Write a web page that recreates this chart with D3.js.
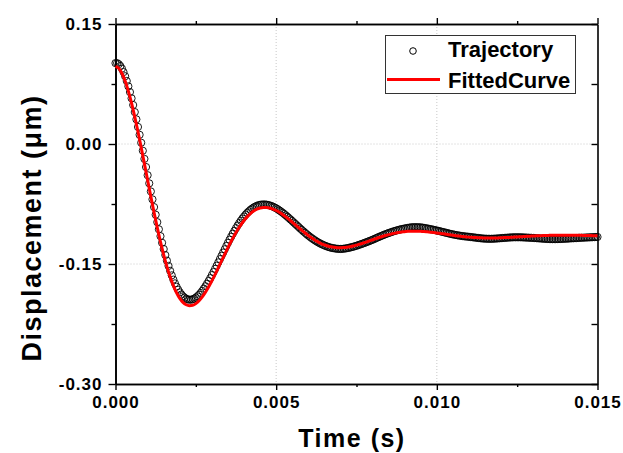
<!DOCTYPE html>
<html>
<head>
<meta charset="utf-8">
<script src="https://cdn.jsdelivr.net/npm/d3@7"></script>
<style>
  body { margin: 0; background: #fff; }
  text { font-family: Arial, "Liberation Sans", sans-serif; font-weight: bold; }
</style>
</head>
<body>
<svg id="chart" width="623" height="453"></svg>
<script>
// measured trajectory, sampled every 0.05 ms
const trajectoryStep = 0.00005;
const trajectory = [
  0.1011, 0.1011, 0.0998, 0.0975, 0.0942, 0.0899, 0.0847, 0.0788, 0.0721, 0.0649,
  0.0571, 0.0487, 0.0399, 0.0308, 0.0213, 0.0115, 0.0016, -0.0084, -0.0186, -0.0288,
  -0.0390, -0.0492, -0.0593, -0.0692, -0.0789, -0.0884, -0.0977, -0.1066, -0.1152, -0.1235,
  -0.1313, -0.1388, -0.1458, -0.1524, -0.1585, -0.1642, -0.1695, -0.1742, -0.1784, -0.1822,
  -0.1854, -0.1881, -0.1904, -0.1921, -0.1934, -0.1943, -0.1946, -0.1946, -0.1941, -0.1933,
  -0.1920, -0.1904, -0.1884, -0.1862, -0.1836, -0.1808, -0.1778, -0.1746, -0.1712, -0.1677,
  -0.1639, -0.1601, -0.1561, -0.1521, -0.1480, -0.1439, -0.1398, -0.1357, -0.1316, -0.1275,
  -0.1235, -0.1196, -0.1158, -0.1121, -0.1086, -0.1052, -0.1019, -0.0988, -0.0959, -0.0931,
  -0.0906, -0.0882, -0.0860, -0.0841, -0.0823, -0.0807, -0.0794, -0.0782, -0.0773, -0.0765,
  -0.0760, -0.0757, -0.0756, -0.0756, -0.0758, -0.0762, -0.0768, -0.0775, -0.0783, -0.0793,
  -0.0804, -0.0816, -0.0830, -0.0844, -0.0859, -0.0875, -0.0892, -0.0909, -0.0927, -0.0945,
  -0.0963, -0.0982, -0.1001, -0.1019, -0.1038, -0.1057, -0.1075, -0.1093, -0.1110, -0.1128,
  -0.1144, -0.1160, -0.1175, -0.1189, -0.1203, -0.1216, -0.1228, -0.1239, -0.1250, -0.1259,
  -0.1268, -0.1276, -0.1284, -0.1290, -0.1296, -0.1300, -0.1304, -0.1307, -0.1310, -0.1311,
  -0.1312, -0.1311, -0.1309, -0.1306, -0.1303, -0.1299, -0.1294, -0.1289, -0.1284, -0.1278,
  -0.1272, -0.1265, -0.1258, -0.1251, -0.1244, -0.1236, -0.1229, -0.1221, -0.1213, -0.1205,
  -0.1197, -0.1188, -0.1179, -0.1170, -0.1161, -0.1153, -0.1144, -0.1136, -0.1128, -0.1120,
  -0.1113, -0.1106, -0.1099, -0.1092, -0.1086, -0.1080, -0.1075, -0.1069, -0.1064, -0.1060,
  -0.1056, -0.1052, -0.1048, -0.1045, -0.1042, -0.1040, -0.1040, -0.1040, -0.1040, -0.1041,
  -0.1042, -0.1045, -0.1048, -0.1052, -0.1056, -0.1059, -0.1064, -0.1068, -0.1072, -0.1077,
  -0.1082, -0.1086, -0.1091, -0.1096, -0.1101, -0.1106, -0.1111, -0.1116, -0.1121, -0.1126,
  -0.1130,
  -0.1134, -0.1138, -0.1142, -0.1145, -0.1148, -0.1151, -0.1154, -0.1156, -0.1158, -0.1160,
  -0.1163, -0.1165, -0.1168, -0.1170, -0.1173, -0.1175, -0.1178, -0.1180, -0.1182, -0.1183,
  -0.1184, -0.1185, -0.1185, -0.1185, -0.1184, -0.1183, -0.1182, -0.1180, -0.1179, -0.1177,
  -0.1175, -0.1174, -0.1172, -0.1171, -0.1169, -0.1168, -0.1167, -0.1166, -0.1166, -0.1166,
  -0.1166, -0.1166, -0.1167, -0.1168, -0.1169, -0.1170, -0.1171, -0.1172, -0.1173, -0.1174,
  -0.1176, -0.1177, -0.1179, -0.1180, -0.1182, -0.1183, -0.1185, -0.1186, -0.1187, -0.1188,
  -0.1189, -0.1189, -0.1189, -0.1189, -0.1188, -0.1188, -0.1187, -0.1186, -0.1185, -0.1184,
  -0.1183, -0.1182, -0.1180, -0.1179, -0.1178, -0.1177, -0.1176, -0.1174, -0.1173, -0.1172,
  -0.1171, -0.1170, -0.1169, -0.1168, -0.1167, -0.1166, -0.1165, -0.1164, -0.1163, -0.1162
];

// fitted curve, every 0.1 ms
const fitStep = 0.0001;
const fittedCurve = [
  0.0971, 0.0946, 0.0884, 0.0787, 0.0661, 0.0511, 0.0339, 0.0153, -0.0045, -0.0248,
  -0.0454, -0.0658, -0.0856, -0.1045, -0.1223, -0.1385, -0.1532, -0.1660, -0.1770, -0.1859,
  -0.1929, -0.1979, -0.2009, -0.2021, -0.2016, -0.1995, -0.1959, -0.1911, -0.1852, -0.1784,
  -0.1709, -0.1629, -0.1546, -0.1462, -0.1378, -0.1295, -0.1216, -0.1142, -0.1073, -0.1011,
  -0.0956, -0.0908, -0.0869, -0.0838, -0.0815, -0.0800, -0.0793, -0.0793, -0.0800, -0.0813,
  -0.0831, -0.0854, -0.0881, -0.0911, -0.0943, -0.0977, -0.1011, -0.1046, -0.1080, -0.1113,
  -0.1144, -0.1173, -0.1200, -0.1223, -0.1244, -0.1261, -0.1275, -0.1285, -0.1292, -0.1296,
  -0.1297, -0.1295, -0.1291, -0.1284, -0.1275, -0.1264, -0.1252, -0.1239, -0.1226, -0.1211,
  -0.1197, -0.1183, -0.1169, -0.1156, -0.1144, -0.1133, -0.1123, -0.1114, -0.1107, -0.1100,
  -0.1096, -0.1092, -0.1090, -0.1090, -0.1090, -0.1092, -0.1094, -0.1098, -0.1102, -0.1106,
  -0.1112, -0.1117, -0.1123, -0.1129, -0.1135, -0.1140, -0.1146, -0.1151, -0.1156, -0.1160,
  -0.1164, -0.1167, -0.1170, -0.1172, -0.1173, -0.1174, -0.1175, -0.1175, -0.1175, -0.1174,
  -0.1172, -0.1170, -0.1169, -0.1166, -0.1164, -0.1162, -0.1159, -0.1157, -0.1154, -0.1152,
  -0.1150, -0.1148, -0.1146, -0.1145, -0.1143, -0.1142, -0.1141, -0.1140, -0.1140, -0.1140,
  -0.1140, -0.1140, -0.1140, -0.1141, -0.1141, -0.1142, -0.1143, -0.1144, -0.1145, -0.1146,
  -0.1147
];

const xTicks = [0, 0.005, 0.01, 0.015];
const xMinorTicks = [0.0025, 0.0075, 0.0125];
const yTicks = [0.15, 0, -0.15, -0.3];
const yMinorTicks = [0.075, -0.075, -0.225];
const legendLabels = ["Trajectory", "FittedCurve"];

const svg = d3.select("#chart");
const plotLeft = 115.5, plotRight = 597.5, plotTop = 24, plotBottom = 384;

const x = d3.scaleLinear().domain([0, 0.015]).range([plotLeft, plotRight]);
const y = d3.scaleLinear().domain([-0.3, 0.15]).range([plotBottom, plotTop]);

// plain hyphen for negatives, like the original export
const fmt = (spec) => (d) => d3.format(spec)(d).replace("\u2212", "-");

// dotted grid at the major ticks inside the frame
svg.append("g")
  .selectAll("line")
  .data(xTicks.slice(1, -1))
  .enter()
  .append("line")
  .attr("x1", (d) => x(d)).attr("x2", (d) => x(d))
  .attr("y1", plotTop).attr("y2", plotBottom)
  .style("stroke", "#c8c8c8")
  .style("stroke-dasharray", "1,2");

svg.append("g")
  .selectAll("line")
  .data(yTicks.slice(1, -1))
  .enter()
  .append("line")
  .attr("x1", plotLeft).attr("x2", plotRight)
  .attr("y1", (d) => y(d)).attr("y2", (d) => y(d))
  .style("stroke", "#c8c8c8")
  .style("stroke-dasharray", "1,2");

// axes: bottom/left labelled, top/right bare
const styleAxis = (g) => {
  g.select(".domain").attr("stroke", "#000").attr("stroke-width", 1.6);
  g.selectAll(".tick line").attr("stroke", "#000").attr("stroke-width", 1.4);
  g.selectAll(".tick text")
    .attr("fill", "#000")
    .style("font-size", "17px")
    .style("letter-spacing", "1px");
};

svg.append("g")
  .attr("transform", `translate(0,${plotBottom})`)
  .call(d3.axisBottom(x).tickValues(xMinorTicks).tickSize(3).tickFormat("").tickSizeOuter(0))
  .call(styleAxis);
svg.append("g")
  .attr("transform", `translate(0,${plotBottom})`)
  .call(d3.axisBottom(x).tickValues(xTicks).tickSize(6).tickPadding(6).tickFormat(fmt(".3f")).tickSizeOuter(0))
  .call(styleAxis);

svg.append("g")
  .attr("transform", `translate(${plotLeft},0)`)
  .call(d3.axisLeft(y).tickValues(yMinorTicks).tickSize(4).tickFormat("").tickSizeOuter(0))
  .call(styleAxis);
svg.append("g")
  .attr("transform", `translate(${plotLeft},0)`)
  .call(d3.axisLeft(y).tickValues(yTicks).tickSize(7).tickPadding(6).tickFormat(fmt(".2f")).tickSizeOuter(0))
  .call(styleAxis);

svg.append("g")
  .attr("transform", `translate(0,${plotTop})`)
  .call(d3.axisTop(x).tickValues(xMinorTicks).tickSize(3).tickFormat("").tickSizeOuter(0))
  .call(styleAxis);
svg.append("g")
  .attr("transform", `translate(0,${plotTop})`)
  .call(d3.axisTop(x).tickValues(xTicks).tickSize(6).tickFormat("").tickSizeOuter(0))
  .call(styleAxis);

svg.append("g")
  .attr("transform", `translate(${plotRight},0)`)
  .call(d3.axisRight(y).tickValues(yMinorTicks.concat(yTicks)).tickSize(-6).tickFormat("").tickSizeOuter(0))
  .call(styleAxis);

// trajectory as open circles
svg.append("g")
  .selectAll("circle")
  .data(trajectory)
  .enter()
  .append("circle")
  .attr("cx", (d, i) => x(i * trajectoryStep))
  .attr("cy", (d) => y(d))
  .attr("r", 3.6)
  .attr("fill", "none")
  .style("stroke", "#000")
  .style("stroke-width", 0.9);

// fitted curve on top
const line = d3
  .line()
  .x((d, i) => x(i * fitStep))
  .y((d) => y(d))
  .curve(d3.curveMonotoneX);

svg.append("path")
  .datum(fittedCurve)
  .attr("d", line)
  .attr("fill", "none")
  .style("stroke", "#ff0000")
  .style("stroke-width", 3);

// legend
const legend = svg.append("g");
legend.append("rect")
  .attr("x", 385.5).attr("y", 35.5)
  .attr("width", 190).attr("height", 58)
  .attr("fill", "#fff")
  .style("stroke", "#333")
  .style("stroke-width", 1);
legend.append("circle")
  .attr("cx", 413).attr("cy", 51).attr("r", 3.3)
  .attr("fill", "none")
  .style("stroke", "#000")
  .style("stroke-width", 1);
legend.append("line")
  .attr("x1", 387).attr("x2", 440)
  .attr("y1", 79.5).attr("y2", 79.5)
  .style("stroke", "#ff0000")
  .style("stroke-width", 3);
legend.selectAll("text")
  .data(legendLabels)
  .enter()
  .append("text")
  .attr("x", 448)
  .attr("y", (d, i) => 57 + i * 30.5)
  .style("font-size", "22px")
  .text((d) => d);

// axis titles
svg.append("text")
  .attr("x", 352).attr("y", 447)
  .attr("text-anchor", "middle")
  .style("font-size", "25px")
  .style("letter-spacing", "1.5px")
  .text("Time (s)");

svg.append("text")
  .attr("transform", "translate(41,228) rotate(-90)")
  .attr("text-anchor", "middle")
  .style("font-size", "27px")
  .style("letter-spacing", "1.5px")
  .text("Displacement (μm)");
</script>
</body>
</html>
